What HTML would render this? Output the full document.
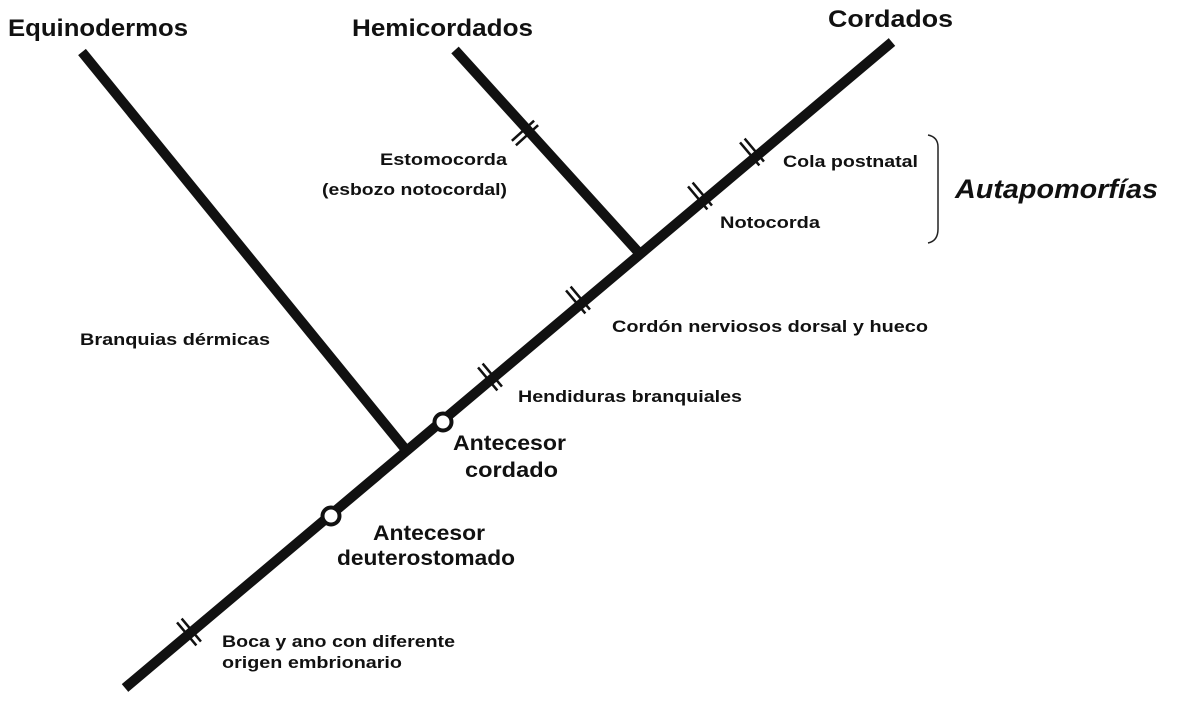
<!DOCTYPE html>
<html><head><meta charset="utf-8"><style>
html,body{margin:0;padding:0;background:#fff}
svg{display:block}
text{font-family:"Liberation Sans",Arial,sans-serif;fill:#111}
.s{font-size:17px;font-weight:bold}
.h{font-size:24px;font-weight:bold}
.a{font-size:21px;font-weight:bold}
</style></head><body>
<svg width="1198" height="720" viewBox="0 0 1198 720" xmlns="http://www.w3.org/2000/svg">
<g stroke="#111" stroke-width="10" stroke-linecap="butt" fill="none">
<line x1="125" y1="688" x2="892" y2="42"/>
<line x1="82" y1="52" x2="406" y2="450"/>
<line x1="455" y1="50" x2="640" y2="254"/>
</g>
<g stroke="#111" stroke-width="2.5">
<g transform="translate(189,632) rotate(-40.1)"><line x1="-3" y1="-15" x2="-3" y2="15"/><line x1="3" y1="-15" x2="3" y2="15"/></g>
<g transform="translate(490,377) rotate(-40.1)"><line x1="-3" y1="-15" x2="-3" y2="15"/><line x1="3" y1="-15" x2="3" y2="15"/></g>
<g transform="translate(578,300) rotate(-40.1)"><line x1="-3" y1="-15" x2="-3" y2="15"/><line x1="3" y1="-15" x2="3" y2="15"/></g>
<g transform="translate(700,196) rotate(-40.1)"><line x1="-3" y1="-15" x2="-3" y2="15"/><line x1="3" y1="-15" x2="3" y2="15"/></g>
<g transform="translate(752,152) rotate(-40.1)"><line x1="-3" y1="-15" x2="-3" y2="15"/><line x1="3" y1="-15" x2="3" y2="15"/></g>
<g transform="translate(525,133) rotate(47.8)"><line x1="-3" y1="-15" x2="-3" y2="15"/><line x1="3" y1="-15" x2="3" y2="15"/></g>
</g>
<circle cx="443" cy="422" r="8.5" fill="#fff" stroke="#111" stroke-width="4"/>
<circle cx="331" cy="516" r="8.5" fill="#fff" stroke="#111" stroke-width="4"/>
<path d="M928,135 q10,2 10,12 v82 q0,12 -10,14" stroke="#222" stroke-width="1.5" fill="none"/>
<text class="h" x="8" y="36" textLength="180" lengthAdjust="spacingAndGlyphs">Equinodermos</text>
<text class="h" x="352" y="36" textLength="181" lengthAdjust="spacingAndGlyphs">Hemicordados</text>
<text class="h" x="828" y="27" textLength="125" lengthAdjust="spacingAndGlyphs">Cordados</text>
<text x="955" y="198" style="font-size:27px;font-weight:bold;font-style:italic" textLength="203" lengthAdjust="spacingAndGlyphs">Autapomorfías</text>
<text class="s" x="783" y="167" textLength="135" lengthAdjust="spacingAndGlyphs">Cola postnatal</text>
<text class="s" x="720" y="228" textLength="100" lengthAdjust="spacingAndGlyphs">Notocorda</text>
<text class="s" x="380" y="165" textLength="127" lengthAdjust="spacingAndGlyphs">Estomocorda</text>
<text class="s" x="322" y="195" textLength="185" lengthAdjust="spacingAndGlyphs">(esbozo notocordal)</text>
<text class="s" x="80" y="345" textLength="190" lengthAdjust="spacingAndGlyphs">Branquias dérmicas</text>
<text class="s" x="612" y="332" textLength="316" lengthAdjust="spacingAndGlyphs">Cordón nerviosos dorsal y hueco</text>
<text class="s" x="518" y="402" textLength="224" lengthAdjust="spacingAndGlyphs">Hendiduras branquiales</text>
<text class="a" x="453" y="450" textLength="113" lengthAdjust="spacingAndGlyphs">Antecesor</text>
<text class="a" x="465" y="477" textLength="93" lengthAdjust="spacingAndGlyphs">cordado</text>
<text class="a" x="373" y="540" textLength="112" lengthAdjust="spacingAndGlyphs">Antecesor</text>
<text class="a" x="337" y="565" textLength="178" lengthAdjust="spacingAndGlyphs">deuterostomado</text>
<text class="s" x="222" y="647" textLength="233" lengthAdjust="spacingAndGlyphs">Boca y ano con diferente</text>
<text class="s" x="222" y="668" textLength="180" lengthAdjust="spacingAndGlyphs">origen embrionario</text>
</svg>
</body></html>
